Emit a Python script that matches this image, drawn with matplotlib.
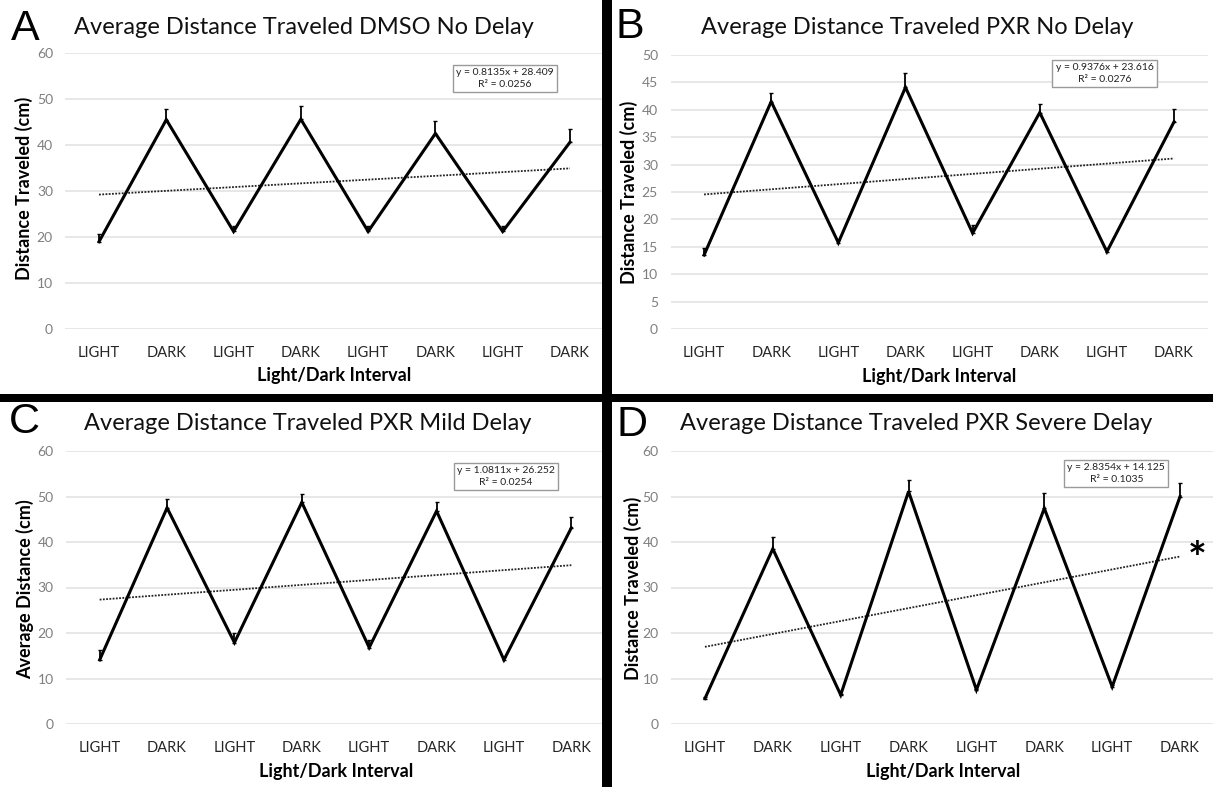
import numpy as np
import matplotlib
matplotlib.use("Agg")
import matplotlib.pyplot as plt
from matplotlib.patches import Rectangle

plt.rcParams['font.family'] = ['Lato', 'DejaVu Sans']

# ---------------- data ----------------
categories = ["LIGHT", "DARK", "LIGHT", "DARK", "LIGHT", "DARK", "LIGHT", "DARK"]

a_mean = [19.0, 45.5, 21.2, 45.6, 21.2, 42.5, 21.2, 40.6]
a_err = [1.6, 2.3, 1.2, 2.8, 1.1, 2.8, 1.2, 2.9]
a_slope, a_icpt, a_r2 = 0.8135, 28.409, 0.0256

b_mean = [13.5, 41.5, 15.75, 44.1, 17.5, 39.5, 14.1, 37.8]
b_err = [1.2, 1.5, 0.5, 2.6, 1.5, 1.6, 0.6, 2.3]
b_slope, b_icpt, b_r2 = 0.9376, 23.616, 0.0276

c_mean = [14.1, 47.5, 17.9, 48.7, 16.8, 46.8, 14.1, 43.1]
c_err = [2.2, 2.0, 2.2, 1.8, 1.7, 2.1, 0.7, 2.5]
c_slope, c_icpt, c_r2 = 1.0811, 26.252, 0.0254

d_mean = [5.6, 38.5, 6.4, 51.1, 7.5, 47.4, 8.2, 50.0]
d_err = [0.3, 2.7, 0.3, 2.5, 0.3, 3.3, 0.3, 2.9]
d_slope, d_icpt, d_r2 = 2.8354, 14.125, 0.1035

titles = ["Average Distance Traveled DMSO No Delay",
          "Average Distance Traveled PXR No Delay",
          "Average Distance Traveled PXR Mild Delay",
          "Average Distance Traveled PXR Severe Delay"]
ylabels = ["Distance Traveled (cm)", "Distance Traveled (cm)",
           "Average Distance (cm)", "Distance Traveled (cm)"]
letters = ["A", "B", "C", "D"]
xlabel = "Light/Dark Interval"

# ---------------- layout ----------------
W, H = 1213, 787
fig = plt.figure(figsize=(W / 100, H / 100), dpi=100)


def fx(px):
    return px / W


def fy(py):
    return 1 - py / H


def rect(l, t, r, b):
    return [l / W, 1 - b / H, (r - l) / W, (b - t) / H]


panels = [
    dict(mean=a_mean, err=a_err, slope=a_slope, icpt=a_icpt, r2=a_r2,
         rect=rect(65.4, 53, 603.6, 329), ymax=60, ystep=10, box=(0.816, 0.908),
         letter=(25, 29), title=(304, 27), ylab=(24, 188), xlab=(334, 376)),
    dict(mean=b_mean, err=b_err, slope=b_slope, icpt=b_icpt, r2=b_r2,
         rect=rect(670.5, 55, 1207.6, 329), ymax=50, ystep=5, box=(0.808, 0.932),
         letter=(630, 27), title=(917, 27), ylab=(629, 192), xlab=(939, 377)),
    dict(mean=c_mean, err=c_err, slope=c_slope, icpt=c_icpt, r2=c_r2,
         rect=rect(66, 451, 605, 724), ymax=60, ystep=10, box=(0.816, 0.907),
         letter=(24, 422), title=(308, 424), ylab=(25, 589), xlab=(336, 771)),
    dict(mean=d_mean, err=d_err, slope=d_slope, icpt=d_icpt, r2=d_r2,
         rect=rect(671, 451, 1214, 724), ymax=60, ystep=10, box=(0.82, 0.918),
         letter=(632, 425), title=(916, 424), ylab=(633, 588), xlab=(943, 771)),
]

x = np.arange(len(categories))

for i, p in enumerate(panels):
    ax = fig.add_axes(p["rect"])
    ax.set_xlim(-0.5, len(categories) - 0.5)
    ax.set_ylim(0, p["ymax"])
    ax.set_yticks(np.arange(0, p["ymax"] + 0.1, p["ystep"]))
    ax.set_xticks(x)
    ax.set_xticklabels(categories)
    for s in ax.spines.values():
        s.set_visible(False)
    ax.tick_params(axis='both', length=0)
    ax.tick_params(axis='y', pad=9, labelsize=10, labelcolor='#7f7f7f')
    ax.tick_params(axis='x', pad=12, labelsize=10.5, labelcolor='#262626')
    ax.yaxis.grid(True, color='#e0e0e0', lw=1.1)
    ax.set_axisbelow(True)
    ax.patch.set_alpha(0)

    mean = np.array(p["mean"])
    err = np.array(p["err"])
    ax.errorbar(x, mean, yerr=[np.zeros_like(err), err], fmt='none',
                ecolor='black', elinewidth=1.3, capsize=1.5, capthick=1.0, zorder=3)
    ax.plot(x, mean, color='black', lw=2.2, zorder=4, solid_joinstyle='miter')
    trend = p["slope"] * (x + 1) + p["icpt"]
    ax.plot(x, trend, color='#222222', lw=1.3, ls=(0, (1, 0.8)), zorder=2)

    ax.text(p["box"][0], p["box"][1],
            "y = %sx + %s\nR² = %s" % (format(p["slope"], "g"), format(p["icpt"], "g"), format(p["r2"], "g")),
            transform=ax.transAxes, ha='center', va='center', fontsize=7.5,
            linespacing=1.35, color='#222222',
            bbox=dict(boxstyle='square,pad=0.3', fc='white', ec='#9a9a9a', lw=1.0))

    fig.text(fx(p["letter"][0]), fy(p["letter"][1]), letters[i], ha='center', va='center',
             fontsize=31, family=['Liberation Sans', 'DejaVu Sans'], color='black')
    fig.text(fx(p["title"][0]), fy(p["title"][1]), titles[i], ha='center', va='center',
             fontsize=17, color='#111111')
    fig.text(fx(p["ylab"][0]), fy(p["ylab"][1]), ylabels[i], ha='center', va='center',
             rotation=90, fontsize=13, fontweight='bold', color='black')
    fig.text(fx(p["xlab"][0]), fy(p["xlab"][1]), xlabel, ha='center', va='center',
             fontsize=13, fontweight='bold', color='black')

# significance asterisk for panel D
fig.text(fx(1197), fy(560), "*", ha='center', va='center', fontsize=32,
         fontweight='bold', color='black')

# black divider bars
fig.add_artist(Rectangle((fx(602), 0), (612 - 602) / W, 1, transform=fig.transFigure,
                         color='black', lw=0, zorder=10))
fig.add_artist(Rectangle((0, fy(402)), 1, 8 / H, transform=fig.transFigure,
                         color='black', lw=0, zorder=10))

fig.savefig("out.png", dpi=100)
